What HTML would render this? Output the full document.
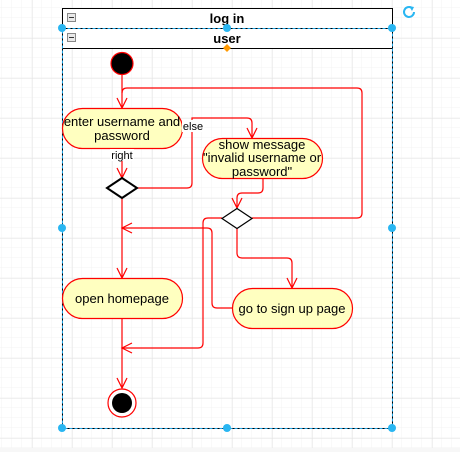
<!DOCTYPE html>
<html><head><meta charset="utf-8"><style>
html,body{margin:0;padding:0;background:#fff;}
svg{display:block;font-family:"Liberation Sans",Arial,sans-serif;}
</style></head><body>
<svg width="460" height="452" viewBox="0 0 460 452" xmlns="http://www.w3.org/2000/svg">
<defs>
<pattern id="minor" x="2" y="8" width="10" height="10" patternUnits="userSpaceOnUse">
<path d="M10 0V10M0 10H10" stroke="#f3f3f3" stroke-width="1" fill="none"/>
</pattern>
<pattern id="major" x="-7.5" y="-1.5" width="40" height="40" patternUnits="userSpaceOnUse">
<path d="M40 0V40M0 40H40" stroke="#e2e2e2" stroke-width="1" fill="none"/>
</pattern>
</defs>
<rect width="460" height="448" fill="url(#minor)"/>
<rect width="460" height="448" fill="url(#major)"/>
<rect y="448" width="460" height="4" fill="#f7f7f7"/>

<rect x="62.5" y="8.5" width="330" height="420" fill="none" stroke="#000"/>
<rect x="62.5" y="8.5" width="330" height="20" fill="#fff" stroke="#000"/>
<rect x="62.5" y="28.5" width="330" height="20" fill="#fff" stroke="#000"/>
<text x="227" y="23" font-size="13" font-weight="bold" text-anchor="middle">log in</text>
<text x="227" y="43" font-size="13" font-weight="bold" text-anchor="middle">user</text>
<g fill="#e8e8e8" stroke="#888">
<rect x="67.5" y="13.5" width="8" height="8"/><rect x="67.5" y="33.5" width="8" height="8"/>
</g>
<path d="M69 17.5H74M69 37.5H74" stroke="#333"/>
<rect x="62.5" y="28.5" width="330" height="400" fill="none" stroke="#1ea5e8" stroke-dasharray="3,2"/>

<g fill="none" stroke="#f00" stroke-width="1.2">
<path d="M122 75V107"/>
<path d="M122 148V177"/>
<path d="M122 198V277"/>
<path d="M122 318V387"/>
<path d="M137 188H187Q192 188 192 183V118H247Q252 118 252 123V137"/>
<path d="M263 178V188Q263 193 258 193H242Q237 193 237 198V207"/>
<path d="M252 218H357Q362 218 362 213V93Q362 88 357 88H127Q122 88 122 93"/>
<path d="M222 218H208Q203 218 203 223V343Q203 348 198 348H123"/>
<path d="M237 228V253Q237 258 242 258H287Q292 258 292 263V287"/>
<path d="M232 308H217Q212 308 212 303V233Q212 228 207 228H123"/>
<path d="M117 98L122 108L127 98"/>
<path d="M117 168L122 178L127 168"/>
<path d="M117 268L122 278L127 268"/>
<path d="M117 378L122 388L127 378"/>
<path d="M247 128L252 138L257 128"/>
<path d="M232 198L237 208L242 198"/>
<path d="M287 278L292 288L297 278"/>
<path d="M132 343L122 348L132 353"/>
<path d="M132 223L122 228L132 233"/>
</g>

<circle cx="122" cy="63.5" r="11" fill="#000" stroke="#f00" stroke-width="1.2"/>
<g fill="#ffffc0" stroke="#f00" stroke-width="1.2">
<rect x="62.5" y="108.5" width="120" height="40" rx="20"/>
<rect x="202.5" y="138.5" width="120" height="40" rx="20"/>
<rect x="62.5" y="278.5" width="120" height="40" rx="20"/>
<rect x="232.5" y="288.5" width="120" height="40" rx="20"/>
</g>
<path d="M107 188L122 178L137 188L122 198Z" fill="#fff" stroke="#000" stroke-width="2"/>
<path d="M222 218.5L237 208.5L252 218.5L237 228.5Z" fill="#fff" stroke="#000" stroke-width="1.2"/>
<circle cx="122" cy="403" r="14" fill="#fff" stroke="#f00" stroke-width="1.2"/>
<circle cx="122" cy="403" r="10" fill="#000"/>

<g font-size="13" text-anchor="middle" fill="#000">
<text x="122" y="126">enter username and</text>
<text x="122" y="140">password</text>
<text x="262" y="149">show message</text>
<text x="262" y="162">"invalid username or</text>
<text x="262" y="176">password"</text>
<text x="122" y="303">open homepage</text>
<text x="292" y="313">go to sign up page</text>
</g>
<rect x="182" y="120" width="22" height="12" fill="#fff"/>
<text x="193" y="130" font-size="11" text-anchor="middle">else</text>
<rect x="110" y="149" width="24" height="12" fill="#fff"/>
<text x="122" y="159" font-size="11" text-anchor="middle">right</text>

<g fill="#29b6f2">
<circle cx="62" cy="28" r="4"/><circle cx="227" cy="28" r="4"/><circle cx="392" cy="28" r="4"/>
<circle cx="62" cy="228" r="4"/><circle cx="392" cy="228" r="4"/>
<circle cx="62" cy="428" r="4"/><circle cx="227" cy="428" r="4"/><circle cx="392" cy="428" r="4"/>
</g>
<path d="M227 44L231 48L227 52L223 48Z" fill="#f90"/>
<path d="M412 8A5 5 0 1 0 414 12" fill="none" stroke="#29b6f2" stroke-width="2"/>
<path d="M409 6L414 7L412 11Z" fill="#29b6f2"/>
</svg>
</body></html>
